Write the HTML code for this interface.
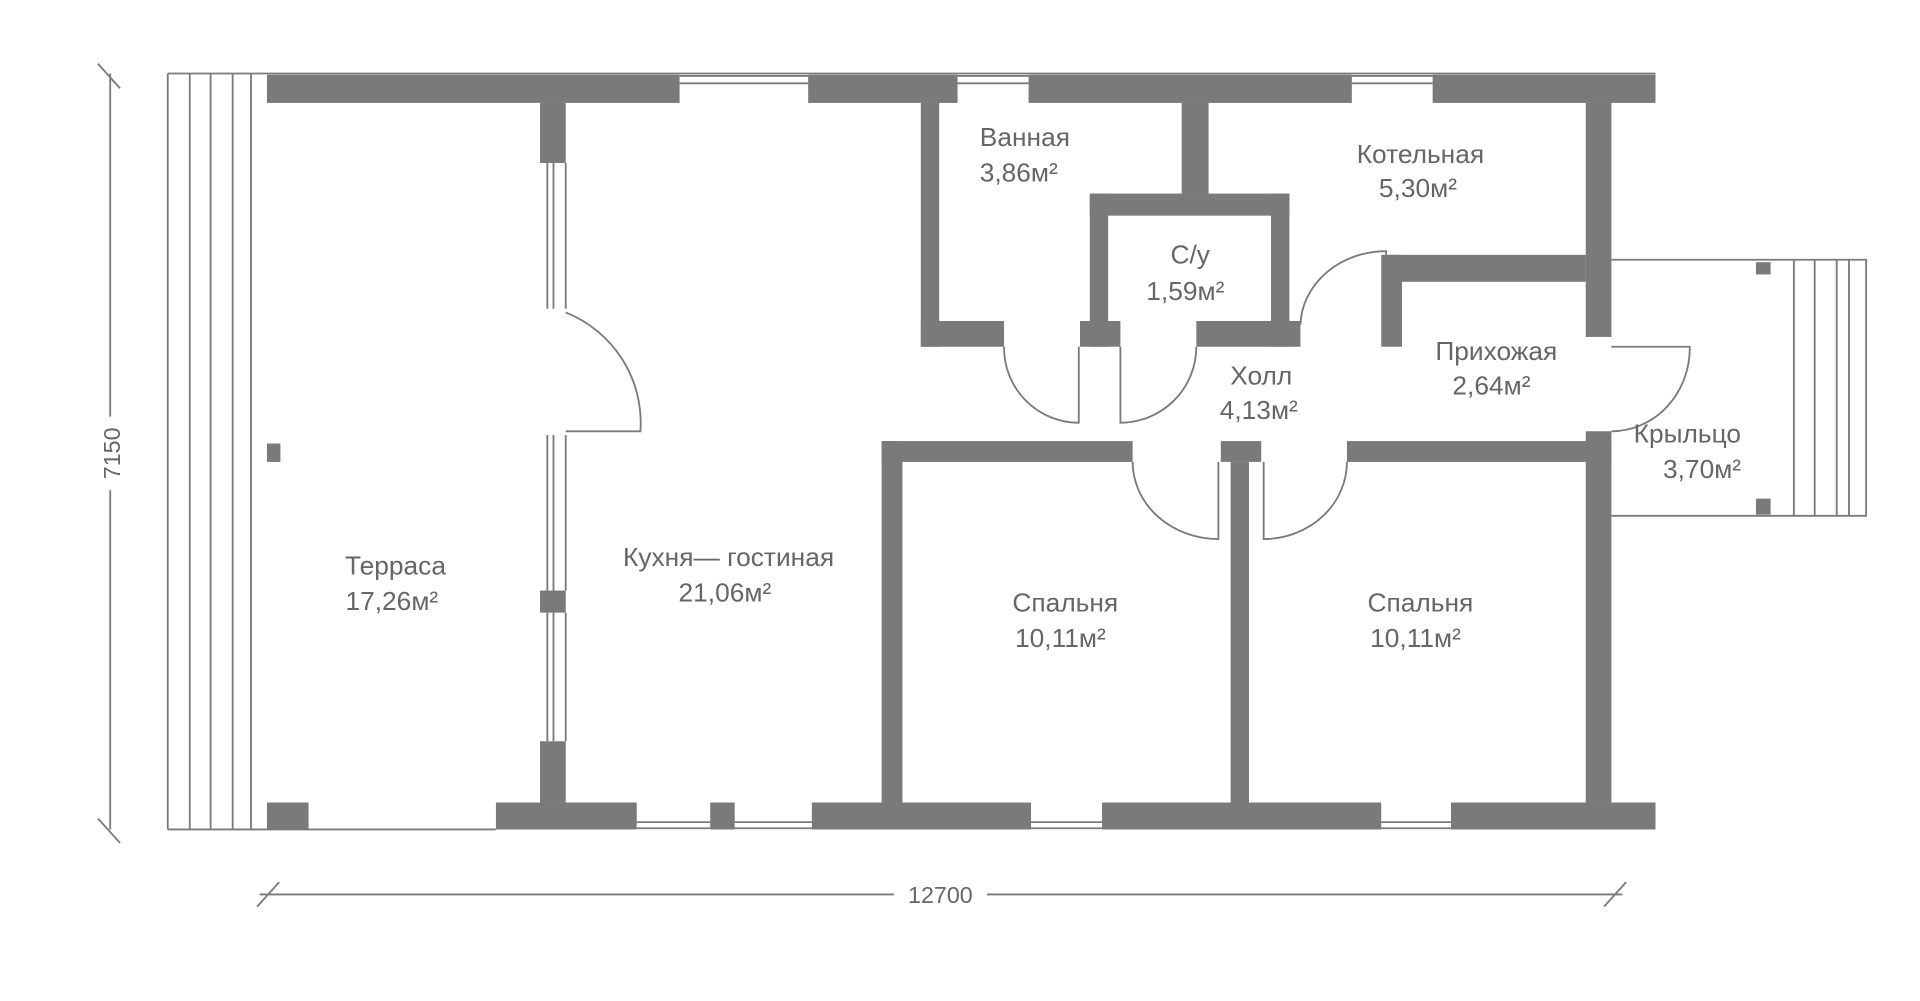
<!DOCTYPE html>
<html><head><meta charset="utf-8"><style>
html,body{margin:0;padding:0;background:#fff;}
svg{display:block;}
text{font-family:"Liberation Sans","DejaVu Sans",sans-serif;fill:#666;font-size:21.5px;text-anchor:middle;}
</style></head><body>
<svg width="1920" height="1001" viewBox="0 0 1568 817" preserveAspectRatio="none">
<g fill="#7a7a7a">
<rect x="218" y="61" width="337" height="23"/>
<rect x="660" y="61" width="122" height="23"/>
<rect x="840" y="61" width="264" height="23"/>
<rect x="1170" y="61" width="182" height="23"/>
<rect x="218" y="655" width="34" height="22"/>
<rect x="405" y="655" width="115" height="22"/>
<rect x="580" y="655" width="20" height="22"/>
<rect x="663" y="655" width="179" height="22"/>
<rect x="900" y="655" width="228" height="22"/>
<rect x="1185" y="655" width="167" height="22"/>
<rect x="1295" y="84" width="21" height="191"/>
<rect x="1295" y="352" width="21" height="303"/>
<rect x="441" y="84" width="21" height="49"/>
<rect x="441" y="482" width="21" height="18"/>
<rect x="441" y="605" width="21" height="50"/>
<rect x="218" y="362" width="11" height="15"/>
<rect x="752" y="84" width="15" height="199"/>
<rect x="752" y="262" width="68" height="21"/>
<rect x="965" y="84" width="22" height="74"/>
<rect x="890" y="158" width="163" height="18"/>
<rect x="890" y="158" width="15" height="125"/>
<rect x="1038" y="158" width="15" height="125"/>
<rect x="882" y="262" width="33" height="21"/>
<rect x="977" y="262" width="85" height="21"/>
<rect x="1132" y="208" width="163" height="22"/>
<rect x="1128" y="208" width="17" height="75"/>
<rect x="720" y="360" width="205" height="17"/>
<rect x="997" y="360" width="33" height="17"/>
<rect x="1100" y="360" width="216" height="17"/>
<rect x="720" y="360" width="17" height="317"/>
<rect x="1005" y="377" width="15" height="280"/>
<rect x="1434" y="214" width="12" height="10"/>
<rect x="1434" y="407" width="12" height="13"/>
</g>
<g fill="none" stroke="#7a7a7a" stroke-width="1.5">
<path d="M137 60H218M137 677H405M137 60V677M155 60V677M172 60V677M190 60V677M205 60V677"/>
<path d="M555 62H660M555 68H660M782 62H840M782 68H840M1104 62H1170M1104 68H1170M218 60H1352"/>
<path d="M520 671H580M520 676H580M600 671H663M600 676H663M842 671H900M842 676H900M1128 671H1185M1128 676H1185"/>
<path d="M447 133V252M452 133V252M462 133V252M447 355V482M452 355V482M462 355V482M447 500V605M452 500V605M462 500V605"/>
<path d="M462 255A97 97 0 0 1 523 352H462"/>
<path d="M820 283A61 61 0 0 0 881 345V283"/>
<path d="M915 283V345A62 62 0 0 0 977 283"/>
<path d="M1062 265A70 62 0 0 1 1132 205V265"/>
<path d="M1316 283H1380A64 68 0 0 1 1316 352"/>
<path d="M925 377A70 63 0 0 0 995 440V377"/>
<path d="M1032 377V440A68 63 0 0 0 1100 377"/>
<path d="M1316 212H1524V421H1316M1465 212V421M1482 212V421M1500 212V421M1510 212V421"/>
<path d="M90 60V340M90 400V677M80 52L98 72M80 668L98 688"/>
<path d="M212 730H730M806 730H1325M210 740L228 720M1310 740L1328 720"/>
</g>
<text x="90" y="378" transform="rotate(-90 90 370)" style="font-size:19px">7150</text>
<text x="768" y="737" style="font-size:19px">12700</text>
<text x="837" y="119">Ванная</text><text x="832" y="148">3,86м²</text>
<text x="1160" y="133">Котельная</text><text x="1158" y="161">5,30м²</text>
<text x="972" y="215">С/у</text><text x="968" y="245">1,59м²</text>
<text x="1030" y="314">Холл</text><text x="1028" y="342">4,13м²</text>
<text x="1222" y="294">Прихожая</text><text x="1218" y="322">2,64м²</text>
<text x="1378" y="361">Крыльцо</text><text x="1390" y="390">3,70м²</text>
<text x="323" y="469">Терраса</text><text x="320" y="498">17,26м²</text>
<text x="595" y="462">Кухня— гостиная</text><text x="592" y="491">21,06м²</text>
<text x="870" y="499">Спальня</text><text x="866" y="528">10,11м²</text>
<text x="1160" y="499">Спальня</text><text x="1156" y="528">10,11м²</text>
</svg>
</body></html>
